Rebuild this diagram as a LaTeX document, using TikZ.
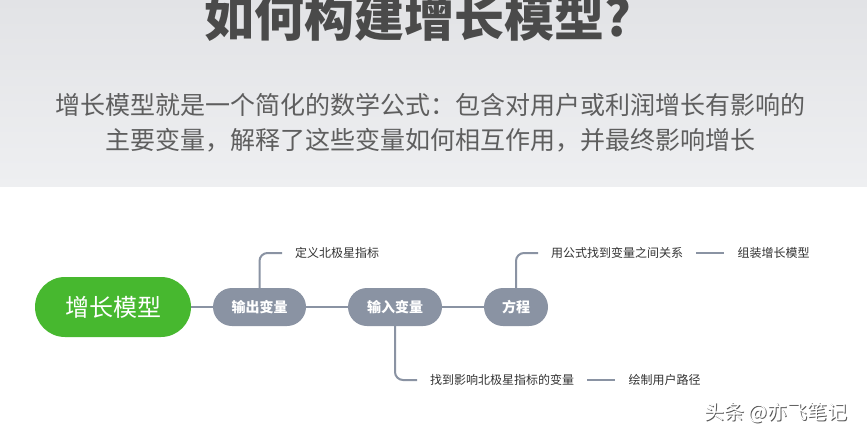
\documentclass[tikz,border=0pt]{standalone}
\usepackage{fontspec}
\setmainfont{Noto Sans CJK SC}
\usetikzlibrary{shapes.misc}
\definecolor{topgray}{HTML}{E2E3E6}
\definecolor{botgray}{HTML}{EEEFF1}
\definecolor{titlegray}{HTML}{4A4A4A}
\definecolor{subgray}{HTML}{5E5E5E}
\definecolor{rootgreen}{HTML}{47B82F}
\definecolor{pillgray}{HTML}{8A93A3}
\definecolor{leafgray}{HTML}{333333}
\tikzset{
  rootnode/.style={rounded rectangle, fill=rootgreen, text=white, font=\fontsize{24}{28}\selectfont, minimum width=156pt, minimum height=60pt, inner sep=0pt},
  subnode/.style={rounded rectangle, fill=pillgray, text=white, font=\bfseries\fontsize{14}{16}\selectfont, minimum height=38pt, inner sep=0pt},
  leafnode/.style={anchor=west, text=leafgray, font=\fontsize{12}{14}\selectfont, inner xsep=13pt, inner ysep=0pt},
  conn/.style={draw=pillgray, line width=2pt},
  branch/.style={conn, rounded corners=8pt},
  wmfont/.style={font=\fontsize{20}{22}\selectfont},
}
\begin{document}
\begin{tikzpicture}[x=1pt,y=-1pt]
\useasboundingbox (0,0) rectangle (867,440);
\fill[white] (0,0) rectangle (867,440);
\shade[top color=topgray, bottom color=botgray] (0,0) rectangle (867,186);
\node[text=titlegray, font=\bfseries\fontsize{50}{56}\selectfont] (title) at (418,17) {如何构建增长模型?};
\node[text=subgray, font=\fontsize{25}{30}\selectfont] (sub1) at (430,105) {增长模型就是一个简化的数学公式：包含对用户或利润增长有影响的};
\node[text=subgray, font=\fontsize{25}{30}\selectfont] (sub2) at (430,140) {主要变量，解释了这些变量如何相互作用，并最终影响增长};

\node[rootnode] (root) at (113,307) {增长模型};
\node[subnode, minimum width=93pt] (out) at (259.5,307) {输出变量};
\node[subnode, minimum width=94pt] (in) at (395,307) {输入变量};
\node[subnode, minimum width=64pt] (eq) at (516,307) {方程};

\draw[conn] (root.east) -- (out.west);
\draw[conn] (out.east) -- (in.west);
\draw[conn] (in.east) -- (eq.west);

\node[leafnode] (l1) at (282,253) {定义北极星指标};
\node[leafnode] (l2) at (538,253) {用公式找到变量之间关系};
\node[leafnode] (l3) at ([xshift=28pt]l2.east) {组装增长模型};
\node[leafnode] (l4) at (417,380) {找到影响北极星指标的变量};
\node[leafnode] (l5) at ([xshift=28pt]l4.east) {绘制用户路径};

\draw[branch] (out.north) |- (l1.west);
\draw[branch] (eq.north) |- (l2.west);
\draw[branch] (in.south) |- (l4.west);
\draw[conn] (l2.east) -- (l3.west);
\draw[conn] (l4.east) -- (l5.west);

\node[text=black!65, wmfont] (wmshadow) at (776.8,413.8) {头条 @亦飞笔记};
\node[text=white, wmfont] (wm) at (776,413) {头条 @亦飞笔记};
\end{tikzpicture}
\end{document}
